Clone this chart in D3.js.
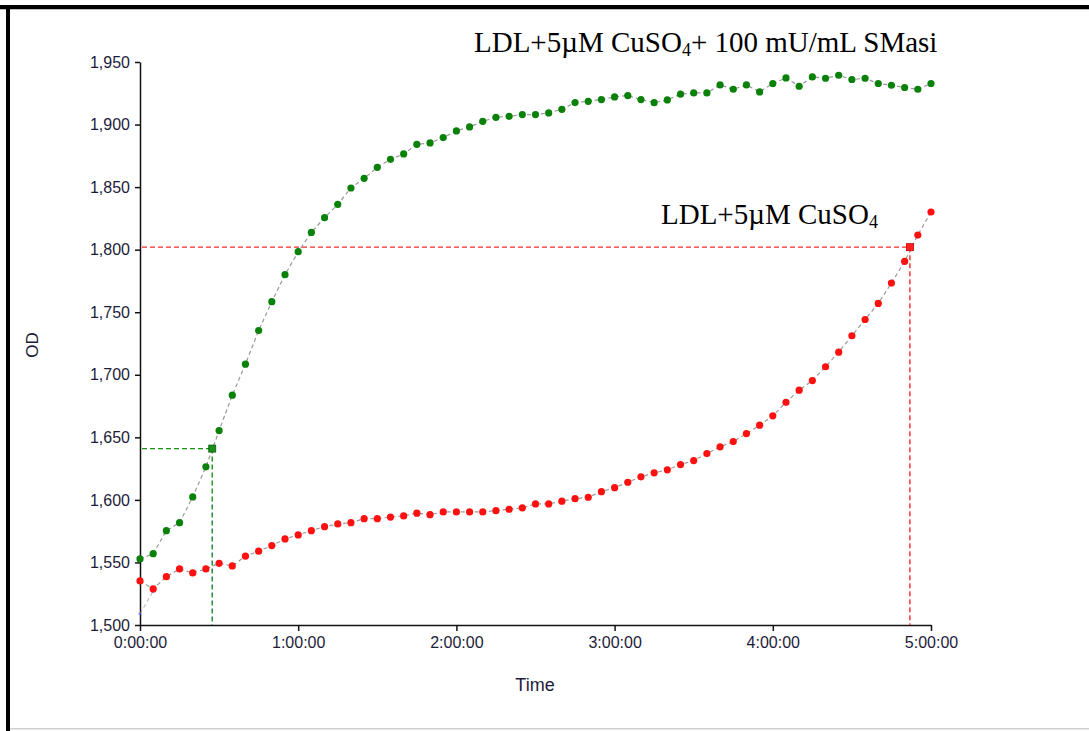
<!DOCTYPE html>
<html>
<head>
<meta charset="utf-8">
<script src="https://cdn.jsdelivr.net/npm/d3@7"></script>
<style>
  body { margin: 0; background: #fff; }
  svg { display: block; }
</style>
</head>
<body>
<div id="chart"></div>
<script>
// Sampling times (minutes), one reading every 5 minutes
const times = d3.range(0, 301, 5);

// LDL + 5uM CuSO4 + 100 mU/mL SMasi (green)
const greenValues = [
  1552.8, 1557, 1575.4, 1581.8, 1602.4, 1626.4, 1655.4, 1683.7, 1708.5, 1735.4,
  1758.4, 1780, 1798.4, 1813.8, 1825.6, 1836.2, 1849.3, 1857, 1865.8, 1872.2,
  1876.5, 1884.2, 1885.3, 1889.6, 1894.9, 1898.1, 1902.6, 1905.8, 1906.6, 1908,
  1908, 1909.3, 1912.2, 1917.6, 1918.6, 1920, 1922.1, 1923.2, 1920, 1917.5,
  1919.7, 1924.3, 1925.3, 1925.3, 1931.7, 1928.2, 1931.7, 1926.1, 1932.8, 1937.3,
  1930.6, 1938.1, 1937, 1939.4, 1936, 1937, 1932.8, 1931.4, 1929.6, 1928.2,
  1932.8
];

// LDL + 5uM CuSO4 (red)
const redValues = [
  1535.2, 1528.8, 1538.6, 1544.8, 1541.6, 1544.8, 1549.3, 1547.2, 1555, 1559,
  1563.5, 1568.8, 1572, 1575.4, 1578.6, 1580.8, 1581.8, 1585, 1585, 1586.3,
  1587.2, 1589.4, 1588.2, 1590.4, 1590.4, 1590.4, 1590.4, 1591.4, 1592.5, 1593.6,
  1596.8, 1596.8, 1599, 1601, 1602.1, 1606.6, 1609.8, 1614.1, 1618.4, 1621.6,
  1624, 1628.2, 1631.4, 1637, 1642.4, 1646.6, 1653, 1659.7, 1667.2, 1678,
  1687.7, 1695.4, 1706.4, 1718.1, 1731.2, 1744.2, 1757, 1773.3, 1790.6, 1811.7,
  1830.1
];

// faint third trace, only its first readings are visible
const blueTimes = [0, 5];
const blueValues = [1509, 1527];

// lag-time read-outs: [time in minutes, OD]
const greenMarker = [27.4, 1641];
const redMarker = [292, 1802];

const yTicks = d3.range(1500, 1951, 50);
const xTicks = [0, 60, 120, 180, 240, 300];
const xTickLabels = ['0:00:00', '1:00:00', '2:00:00', '3:00:00', '4:00:00', '5:00:00'];

const width = 1089, height = 731;
const svg = d3.select('#chart').append('svg')
  .attr('width', width).attr('height', height);

// frame of the pasted figure
svg.append('rect').attr('x', 0).attr('y', 5).attr('width', width).attr('height', 4).attr('fill', '#000');
svg.append('rect').attr('x', 0).attr('y', 9).attr('width', width).attr('height', 1).attr('fill', '#bbb');
svg.append('rect').attr('x', 6).attr('y', 5).attr('width', 4).attr('height', height - 5).attr('fill', '#000');
svg.append('rect').attr('x', 10).attr('y', 728).attr('width', width - 10).attr('height', 1.5).attr('fill', '#d0d0d0');

const x = d3.scaleLinear().domain([0, 300]).range([140, 931]);
const y = d3.scaleLinear().domain([1500, 1950]).range([625, 62]);

const font = 'Arial, "Liberation Sans", sans-serif';
const textColor = '#1c1c3a';

// axes
const xAxis = d3.axisBottom(x)
  .tickValues(xTicks)
  .tickFormat((d, i) => xTickLabels[i])
  .tickSize(6).tickSizeOuter(0).tickPadding(6);
const gx = svg.append('g').attr('transform', 'translate(0,625)').call(xAxis);

const yAxis = d3.axisLeft(y)
  .tickValues(yTicks)
  .tickFormat(d3.format(','))
  .tickSize(5).tickSizeOuter(0).tickPadding(5);
const gy = svg.append('g').attr('transform', 'translate(140,0)').call(yAxis);

[gx, gy].forEach(g => {
  g.selectAll('path, line').attr('stroke', '#111').attr('stroke-width', 1.5);
  g.selectAll('text').attr('font-family', font).attr('font-size', 16).attr('fill', textColor);
});

svg.append('text')
  .attr('x', 535).attr('y', 691)
  .attr('text-anchor', 'middle')
  .attr('font-family', font).attr('font-size', 18).attr('fill', textColor)
  .text('Time');

svg.append('text')
  .attr('transform', 'translate(38,345) rotate(-90)')
  .attr('text-anchor', 'middle')
  .attr('font-family', font).attr('font-size', 17).attr('fill', textColor)
  .text('OD');

// dashed read-out lines
function readout(marker, color) {
  const g = svg.append('g');
  g.append('line')
    .attr('x1', x(0) + 2).attr('x2', x(marker[0]))
    .attr('y1', y(marker[1])).attr('y2', y(marker[1]))
    .attr('stroke', color).attr('stroke-width', 1.4).attr('stroke-dasharray', '5,3');
  g.append('line')
    .attr('x1', x(marker[0])).attr('x2', x(marker[0]))
    .attr('y1', y(marker[1])).attr('y2', y(1500))
    .attr('stroke', color).attr('stroke-width', 1.4).attr('stroke-dasharray', '5,3');
  return g;
}
readout(redMarker, '#ff2a2a');
readout(greenMarker, '#1a8f1a');
// blue dashes interleaved with the green vertical read-out
svg.append('line')
  .attr('x1', x(greenMarker[0])).attr('x2', x(greenMarker[0]))
  .attr('y1', y(1600)).attr('y2', y(1500))
  .attr('stroke', '#3344ff').attr('stroke-width', 1.2)
  .attr('stroke-dasharray', '2,6').attr('stroke-dashoffset', 3).attr('opacity', 0.5);

// series
const line = d3.line().x(d => x(d[0])).y(d => y(d[1]));

function series(vals, tms, color, r, opacity) {
  const pts = tms.map((t, i) => [t, vals[i]]);
  svg.append('path').datum(pts)
    .attr('d', line)
    .attr('fill', 'none')
    .attr('stroke', '#9a9a9a')
    .attr('stroke-width', 1.2)
    .attr('stroke-dasharray', '4,3')
    .attr('opacity', opacity);
  svg.append('g').selectAll('circle').data(pts).join('circle')
    .attr('cx', d => x(d[0]))
    .attr('cy', d => y(d[1]))
    .attr('r', r)
    .attr('fill', color)
    .attr('opacity', opacity);
}

series(blueValues, blueTimes, '#4455ff', 1.5, 0.6);
series(greenValues, times, '#0a820a', 3.6, 1);
series(redValues, times, '#ff1010', 3.6, 1);

// read-out squares
svg.append('rect')
  .attr('x', x(greenMarker[0]) - 3.5).attr('y', y(greenMarker[1]) - 3.5)
  .attr('width', 7).attr('height', 7)
  .attr('fill', '#1a8f1a').attr('stroke', '#0a5a0a').attr('stroke-width', 0.8);
svg.append('rect')
  .attr('x', x(redMarker[0]) - 3.5).attr('y', y(redMarker[1]) - 3.5)
  .attr('width', 7).attr('height', 7)
  .attr('fill', '#ff2020').attr('stroke', '#cc0000').attr('stroke-width', 0.8);

// series labels
const serif = '"Times New Roman", "Liberation Serif", serif';
function label(xPos, yPos, before, after) {
  const t = svg.append('text')
    .attr('x', xPos).attr('y', yPos)
    .attr('font-family', serif).attr('font-size', 29).attr('fill', '#000');
  t.append('tspan').text(before);
  t.append('tspan').attr('font-size', 18).attr('dy', 4).text('4');
  if (after) t.append('tspan').attr('dy', -4).text(after);
}
label(474, 52, 'LDL+5\u00b5M CuSO', '+ 100 mU/mL SMasi');
label(661, 224, 'LDL+5\u00b5M CuSO', null);
</script>
</body>
</html>
